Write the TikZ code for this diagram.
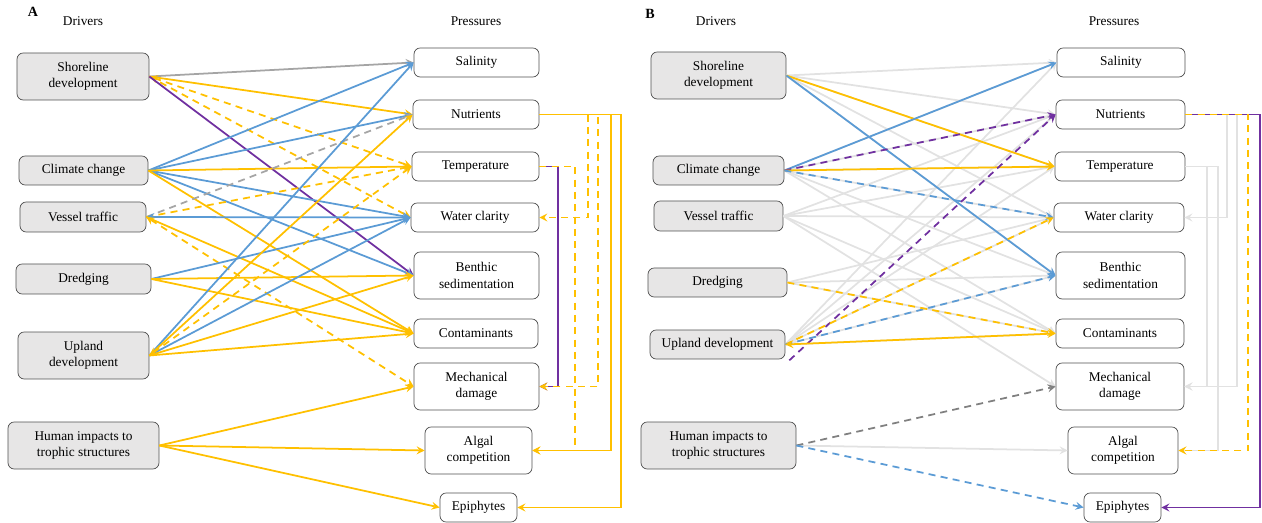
\documentclass[tikz,border=0pt]{standalone}
\usepackage{fontspec}
\setmainfont{Liberation Serif}
\usepackage{xcolor}
\usepackage{tikz}
\usetikzlibrary{shapes,arrows}
\definecolor{lineyellow}{RGB}{255,192,0}
\definecolor{lineblue}{RGB}{91,155,213}
\definecolor{linepurple}{RGB}{112,48,160}
\definecolor{linegray}{RGB}{165,165,165}
\definecolor{darkline}{RGB}{128,128,128}
\definecolor{faintgray}{RGB}{226,226,226}
\definecolor{drvfill}{RGB}{231,230,230}
\definecolor{boxline}{RGB}{80,80,80}
\tikzstyle{driver} = [rectangle, draw=boxline, fill=drvfill, rounded corners=3.5pt, align=center, inner sep=0pt, font=\fontsize{7.6}{9.2}\selectfont]
\tikzstyle{pressure} = [rectangle, draw=boxline, fill=white, rounded corners=3.5pt, align=center, inner sep=0pt, font=\fontsize{7.6}{9.2}\selectfont]
\tikzstyle{heading} = [font=\fontsize{7.6}{9.2}\selectfont]
\tikzstyle{arrow} = [line width=1pt,->,>=stealth]
\tikzstyle{broken} = [dash pattern=on 4pt off 3pt]
\tikzset{sz/.style 2 args={minimum width=#1cm, minimum height=#2cm}}

\begin{document}
\begin{tikzpicture}[x=0.02cm, y=-0.02cm]
\useasboundingbox (0,0) rectangle (1262,523);

% panel A
\node[heading, font=\fontsize{8}{9}\selectfont\bfseries] (labA) at (33,12) {A};
\node[heading] (drvA) at (83,21) {Drivers};
\node[heading] (prsA) at (476,21) {Pressures};

\node[driver, sz={2.64}{0.94}] (shoA) at (83,76.5) {Shoreline\\development};
\node[driver, sz={2.58}{0.58}] (cliA) at (83.5,170.5) {Climate change};
\node[driver, sz={2.52}{0.60}] (vesA) at (83,217) {Vessel traffic};
\node[driver, sz={2.70}{0.60}] (drdA) at (83.5,279) {Dredging};
\node[driver, sz={2.62}{0.94}] (upA) at (83.5,355.5) {Upland\\development};
\node[driver, sz={3.02}{0.94}] (humA) at (83.5,445.5) {Human impacts to\\trophic structures};

\node[pressure, sz={2.50}{0.58}] (salA) at (476.5,62.5) {Salinity};
\node[pressure, sz={2.52}{0.58}] (nutA) at (476,114.5) {Nutrients};
\node[pressure, sz={2.54}{0.58}] (temA) at (475.5,166.5) {Temperature};
\node[pressure, sz={2.56}{0.58}] (watA) at (475,217.5) {Water clarity};
\node[pressure, sz={2.50}{0.94}] (benA) at (476.5,275.5) {Benthic\\sedimentation};
\node[pressure, sz={2.48}{0.58}] (conA) at (476,333.5) {Contaminants};
\node[pressure, sz={2.50}{0.94}] (mecA) at (476.5,386.5) {Mechanical\\damage};
\node[pressure, sz={2.14}{0.94}] (algA) at (478.5,450.5) {Algal\\competition};
\node[pressure, sz={1.54}{0.58}] (epiA) at (478.5,507.5) {Epiphytes};

% drivers to pressures
\draw[arrow, linegray] (shoA.east) -- (salA.west);
\draw[arrow, lineyellow] (shoA.east) -- (nutA.west);
\draw[arrow, lineyellow, broken, <->] (shoA.east) -- (temA.west);
\draw[arrow, lineyellow, broken] (shoA.east) -- (watA.west);
\draw[arrow, linepurple] (shoA.east) -- (benA.west);
\foreach \p in {salA,nutA,watA,benA}
  \draw[arrow, lineblue] (cliA.east) -- (\p.west);
\foreach \p in {temA,conA}
  \draw[arrow, lineyellow] (cliA.east) -- (\p.west);
\draw[arrow, linegray, broken] (vesA.east) -- (nutA.west);
\draw[arrow, lineyellow, broken] (vesA.east) -- (temA.west);
\draw[arrow, lineblue, <->] (vesA.east) -- (watA.west);
\draw[arrow, lineyellow] (vesA.east) -- (conA.west);
\draw[arrow, lineyellow, broken, <->] (vesA.east) -- (mecA.west);
\draw[arrow, lineblue] (drdA.east) -- (watA.west);
\foreach \p in {benA,conA}
  \draw[arrow, lineyellow] (drdA.east) -- (\p.west);
\foreach \p in {salA,watA}
  \draw[arrow, lineblue] (upA.east) -- (\p.west);
\foreach \p in {nutA,benA,conA}
  \draw[arrow, lineyellow] (upA.east) -- (\p.west);
\draw[arrow, lineyellow, broken, <->] (upA.east) -- (temA.west);
\foreach \p in {mecA,algA,epiA}
  \draw[arrow, lineyellow] (humA.east) -- (\p.west);

% pressures to pressures
\draw[arrow, linepurple] (temA.east) -- ++(19,0) |- (mecA.east);
\draw[arrow, lineyellow, broken] (temA.east) -- ++(36,0) |- (algA.east);
\draw[arrow, lineyellow, broken] (nutA.east) -- ++(49,0) |- (watA.east);
\draw[arrow, lineyellow, broken] (nutA.east) -- ++(59,0) |- (mecA.east);
\draw[arrow, lineyellow] (nutA.east) -- ++(72,0) |- (algA.east);
\draw[arrow, lineyellow] (nutA.east) -- ++(82,0) |- (epiA.east);

% panel B
\node[heading, font=\fontsize{8}{9}\selectfont\bfseries] (labB) at (650,14) {B};
\node[heading] (drvB) at (716,21) {Drivers};
\node[heading] (prsB) at (1114,21) {Pressures};

\node[driver, sz={2.70}{0.94}] (shoB) at (718.5,75.5) {Shoreline\\development};
\node[driver, sz={2.62}{0.58}] (cliB) at (718.5,170.5) {Climate change};
\node[driver, sz={2.58}{0.60}] (vesB) at (718.5,216) {Vessel traffic};
\node[driver, sz={2.78}{0.58}] (drdB) at (717.5,282.5) {Dredging};
\node[driver, sz={2.70}{0.58}] (upB) at (717.5,344.5) {Upland development};
\node[driver, sz={3.10}{0.94}] (humB) at (718.5,445.5) {Human impacts to\\trophic structures};

\node[pressure, sz={2.56}{0.58}] (salB) at (1121,62.5) {Salinity};
\node[pressure, sz={2.58}{0.58}] (nutB) at (1120.5,114.5) {Nutrients};
\node[pressure, sz={2.60}{0.58}] (temB) at (1120,166.5) {Temperature};
\node[pressure, sz={2.60}{0.58}] (watB) at (1119,217.5) {Water clarity};
\node[pressure, sz={2.58}{0.94}] (benB) at (1120.5,275.5) {Benthic\\sedimentation};
\node[pressure, sz={2.56}{0.58}] (conB) at (1120,333.5) {Contaminants};
\node[pressure, sz={2.56}{0.94}] (mecB) at (1120,386.5) {Mechanical\\damage};
\node[pressure, sz={2.20}{0.94}] (algB) at (1123,450.5) {Algal\\competition};
\node[pressure, sz={1.54}{0.58}] (epiB) at (1122.5,507.5) {Epiphytes};

% background links
\foreach \d/\p in {shoB/salB, shoB/nutB, shoB/temB, shoB/watB, shoB/benB,
    cliB/salB, cliB/nutB, cliB/temB, cliB/watB, cliB/benB, cliB/conB,
    vesB/nutB, vesB/temB, vesB/watB, vesB/conB, vesB/mecB,
    drdB/watB, drdB/benB, drdB/conB,
    upB/salB, upB/nutB, upB/temB, upB/watB, upB/benB, upB/conB,
    humB/algB}
  \draw[arrow, faintgray] (\d.east) -- (\p.west);
\draw[arrow, faintgray] (nutB.east) -- ++(42,0) |- (watB.east);
\draw[arrow, faintgray] (nutB.east) -- ++(52,0) |- (mecB.east);
\draw[arrow, faintgray] (temB.east) -- ++(22,0) |- (mecB.east);
\draw[arrow, faintgray] (temB.east) -- ++(33,0) |- (algB.east);

% highlighted links
\draw[arrow, lineyellow] (shoB.east) -- (temB.west);
\draw[arrow, lineblue] (shoB.east) -- (benB.west);
\draw[arrow, lineblue] (cliB.east) -- (salB.west);
\draw[arrow, linepurple, broken] (cliB.east) -- (nutB.west);
\draw[arrow, lineyellow] (cliB.east) -- (temB.west);
\draw[arrow, lineblue, broken] (cliB.east) -- (watB.west);
\draw[arrow, linepurple, broken] (upB.south east) ++(4,1) -- (nutB.west);
\draw[arrow, lineyellow, broken] (upB.east) -- (watB.west);
\draw[arrow, lineblue, broken] (upB.east) -- (benB.west);
\draw[arrow, lineyellow, <->] (upB.east) -- (conB.west);
\draw[arrow, lineyellow, broken] (drdB.east) -- (conB.west);
\draw[arrow, darkline, broken] (humB.east) -- (mecB.west);
\draw[arrow, lineblue, broken] (humB.east) -- (epiB.west);
\draw[arrow, linepurple] (nutB.east) -- ++(75,0) |- (epiB.east);
\draw[arrow, lineyellow, broken] (nutB.east) -- ++(63,0) |- (algB.east);
\end{tikzpicture}
\end{document}
